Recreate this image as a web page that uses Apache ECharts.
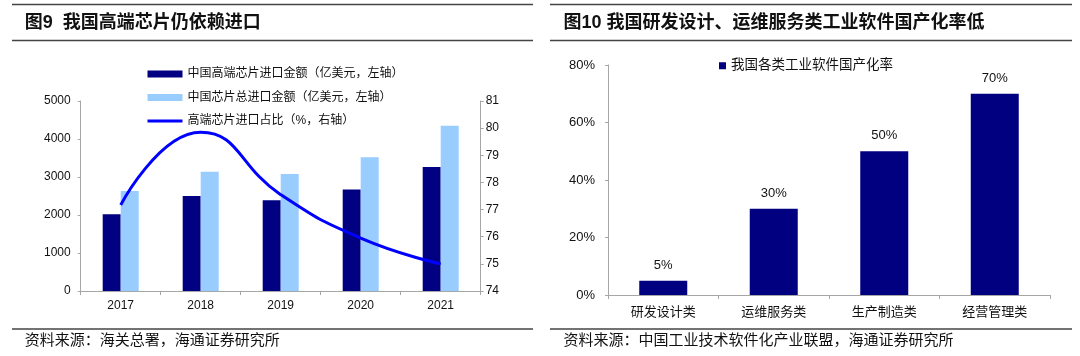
<!DOCTYPE html>
<html>
<head>
<meta charset="utf-8">
<script src="https://cdn.jsdelivr.net/npm/echarts@6/dist/echarts.min.js"></script>
<style>html,body{margin:0;padding:0;background:#fff;}#c{width:1080px;height:356px;}</style>
</head>
<body>
<div id="c"></div>
<script>
// ---- Data: left chart ----
var years = ['2017', '2018', '2019', '2020', '2021'];
var highEndImport = [2020, 2500, 2390, 2670, 3260];
var totalImport = [2630, 3140, 3080, 3520, 4350];
var highEndShare = [77.17, 79.85, 77.55, 75.95, 75.0];
var leftNames = ['中国高端芯片进口金额（亿美元，左轴）', '中国芯片总进口金额（亿美元，左轴）', '高端芯片进口占比（%，右轴）'];
// ---- Data: right chart ----
var softwareCats = ['研发设计类', '运维服务类', '生产制造类', '经营管理类'];
var localRate = [5, 30, 50, 70];
var rightName = '我国各类工业软件国产化率';
var titles = ['图9  我国高端芯片仍依赖进口', '图10 我国研发设计、运维服务类工业软件国产化率低'];
var sources = ['资料来源：海关总署，海通证券研究所', '资料来源：中国工业技术软件化产业联盟，海通证券研究所'];

var FONT = '"Liberation Sans", "Noto Sans CJK SC", sans-serif';
var AX = '#A6A6A6';
var chart = echarts.init(document.getElementById('c'));

function sepLine(x1, x2, y) {
  return { type: 'line', silent: true, shape: { x1: x1, y1: y, x2: x2, y2: y }, style: { stroke: '#444', lineWidth: 1.7 } };
}
function txt(t, x, y, size, weight) {
  return { type: 'text', silent: true, x: x, y: y, style: { text: t, fontSize: size, fontWeight: weight || 'normal', fontFamily: FONT, fill: '#111', verticalAlign: 'middle', align: 'left' } };
}
var axisCommon = {
  axisLine: { show: true, lineStyle: { color: AX, width: 1 } },
  axisTick: { show: true, inside: false, length: 3, lineStyle: { color: AX } },
  splitLine: { show: false }
};

var option = {
  animation: false,
  backgroundColor: '#fff',
  textStyle: { fontFamily: FONT },
  grid: [
    { left: 80.7, top: 101, width: 400, height: 190 },
    { left: 608, top: 65, width: 442, height: 230 }
  ],
  legend: [
    {
      orient: 'vertical', left: 141, top: 62, itemWidth: 35, itemHeight: 7, itemGap: 9.5,
      data: [
        { name: leftNames[0], icon: 'rect' },
        { name: leftNames[1], icon: 'rect' },
        { name: leftNames[2], itemStyle: { color: 'rgba(0,0,0,0)', borderWidth: 0, opacity: 0 }, lineStyle: { width: 3, color: '#0000FF' } }
      ],
      textStyle: { fontSize: 12, color: '#111', fontFamily: FONT, lineHeight: 14 }
    },
    {
      orient: 'horizontal', left: 714, top: 54, itemWidth: 7, itemHeight: 7,
      data: [{ name: rightName, icon: 'rect' }],
      textStyle: { fontSize: 13.5, color: '#111', fontFamily: FONT }
    }
  ],
  xAxis: [
    Object.assign({}, axisCommon, {
      type: 'category', gridIndex: 0, data: years, boundaryGap: true,
      axisTick: { show: true, alignWithLabel: false, length: 4, lineStyle: { color: AX } },
      axisLabel: { fontSize: 12, color: '#111', margin: 9, fontFamily: FONT }
    }),
    Object.assign({}, axisCommon, {
      type: 'category', gridIndex: 1, data: softwareCats, boundaryGap: true,
      axisTick: { show: true, alignWithLabel: false, length: 4, lineStyle: { color: AX } },
      axisLabel: { fontSize: 13, color: '#111', margin: 11, fontFamily: FONT }
    })
  ],
  yAxis: [
    Object.assign({}, axisCommon, {
      type: 'value', gridIndex: 0, position: 'left', min: 0, max: 5000, interval: 1000,
      axisLabel: { fontSize: 12, color: '#111', margin: 10, fontFamily: FONT, formatter: function (v) { return String(v); } }
    }),
    Object.assign({}, axisCommon, {
      type: 'value', gridIndex: 0, position: 'right', min: 74, max: 81, interval: 1,
      axisLabel: { fontSize: 12, color: '#111', margin: 5, fontFamily: FONT, formatter: function (v) { return String(v); } }
    }),
    Object.assign({}, axisCommon, {
      type: 'value', gridIndex: 1, position: 'left', min: 0, max: 80, interval: 20,
      axisLabel: { fontSize: 13, color: '#111', margin: 13, fontFamily: FONT, formatter: '{value}%' }
    })
  ],
  series: [
    { name: leftNames[0], type: 'bar', xAxisIndex: 0, yAxisIndex: 0, data: highEndImport, barWidth: 18, barGap: '0%', itemStyle: { color: '#000080' } },
    { name: leftNames[1], type: 'bar', xAxisIndex: 0, yAxisIndex: 0, data: totalImport, barWidth: 18, barGap: '0%', itemStyle: { color: '#99CCFF' } },
    { name: leftNames[2], type: 'line', xAxisIndex: 0, yAxisIndex: 1, data: highEndShare, smooth: true, symbol: 'none', z: 5, lineStyle: { color: '#0000FF', width: 3 }, itemStyle: { color: '#0000FF' } },
    {
      name: rightName, type: 'bar', xAxisIndex: 1, yAxisIndex: 2, data: localRate, barWidth: 48, itemStyle: { color: '#000080' },
      label: { show: true, position: 'top', distance: 9, fontSize: 13, color: '#111', fontFamily: FONT, formatter: '{c}%' }
    }
  ],
  graphic: [
    sepLine(12, 533, 4.5), sepLine(12, 533, 40.5), sepLine(12, 533, 329),
    sepLine(550, 1072, 4.5), sepLine(550, 1072, 40.5), sepLine(550, 1072, 329),
    txt(titles[0], 24.8, 23.5, 18, 'bold'),
    txt(titles[1], 563.4, 23.5, 18, 'bold'),
    txt(sources[0], 24.8, 341, 15),
    txt(sources[1], 563.4, 341, 15)
  ]
};
chart.setOption(option);
</script>
</body>
</html>
